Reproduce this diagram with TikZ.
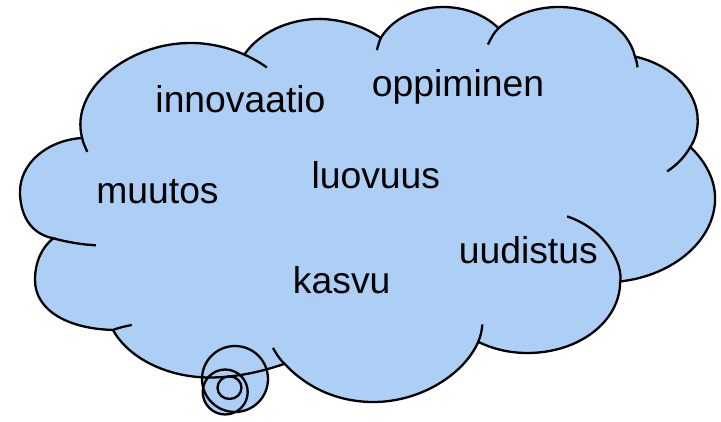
\documentclass[tikz,border=0pt]{standalone}
\usepackage{fontspec}
\setmainfont{Liberation Sans}
\definecolor{bleuciel}{RGB}{174,207,245}

\begin{document}
\begin{tikzpicture}[
  x=1pt, y=-1pt,
  mot/.style={font=\fontsize{37.3}{40}\selectfont, inner sep=0pt, anchor=base},
  nuage/.style={fill=bleuciel},
  trait/.style={line width=2.3pt}
]
  \useasboundingbox (0,0) rectangle (721,422);

  %=========================================================
  % 1. Bulles de la queue : on remplit d'abord
  %=========================================================
  \fill[nuage] (235,379) circle[radius=33];
  \fill[nuage] (225.2,392) circle[radius=22.5];

  %=========================================================
  % 2. Le nuage : 11 lobes, deux courbes de Bezier par lobe
  %    (grille 216 x 216)
  %=========================================================
  \begin{scope}[shift={(20,7)}, x=3.218pt, y=-1.8287pt]
    \filldraw[nuage, trait] (19.30,71.60) coordinate (j0)
      .. controls (15.30,44.90) and (34.00,19.70) .. (52.70,19.70)
      .. controls (58.60,19.50) and (64.70,22.10) .. (69.70,26.00) coordinate (j1)
      .. controls (74.50,13.90) and (83.40,6.50) .. (93.40,6.50)
      .. controls (100.04,6.90) and (107.10,10.50) .. (112.10,17.00) coordinate (j2)
      .. controls (115.70,6.30) and (123.30,0) .. (131.50,0)
      .. controls (138.40,0) and (144.70,4.60) .. (148.70,11.60) coordinate (j3)
      .. controls (153.30,4.40) and (160.20,0) .. (167.40,0)
      .. controls (179.10,0) and (189.00,11.30) .. (191.10,27.10) coordinate (j4)
      .. controls (202.40,31.50) and (210.60,45.80) .. (210.60,62.20)
      .. controls (210.60,67.20) and (210.00,72.00) .. (208.30,76.60) coordinate (j5)
      .. controls (213.10,84.60) and (216.00,94.50) .. (216.00,104.60)
      .. controls (216.00,127.50) and (203.10,146.80) .. (186.50,150.10) coordinate (j6)
      .. controls (186.50,172.00) and (173.70,189.20) .. (157.70,189.20)
      .. controls (152.20,189.20) and (147.00,187.10) .. (142.40,183.10) coordinate (j7)
      .. controls (138.20,200.20) and (124.90,216.00) .. (109.80,216.00)
      .. controls (98.60,216.00) and (89.00,208.00) .. (82.20,195.10) coordinate (j8)
      .. controls (75.00,199.50) and (67.00,202.60) .. (59.00,202.60)
      .. controls (45.00,202.60) and (33.30,191.00) .. (28.90,176.60) coordinate (j9)
      .. controls (15.00,176.00) and (4.66,166.00) .. (4.66,149.30)
      .. controls (4.66,139.00) and (7.00,131.00) .. (10.35,126.48) coordinate (j10)
      .. controls (3.00,124.00) and (0,113.00) .. (0,101.00)
      .. controls (0,86.00) and (8.00,73.00) .. (19.30,71.60)
      -- cycle;

    % bouts de lobes qui rentrent dans le nuage
    \draw[trait] (j0)  .. controls (19.50,74.10) and (20.40,76.90) .. (20.90,79.20);
    \draw[trait] (j1)  .. controls (72.00,27.90) and (74.80,30.50) .. (76.70,33.10);
    \draw[trait] (j2)  .. controls (111.60,19.20) and (111.20,21.40) .. (110.90,23.60);
    \draw[trait] (j3)  .. controls (147.20,14.00) and (146.40,17.20) .. (145.40,20.50);
    \draw[trait] (j4)  .. controls (191.50,29.00) and (191.80,31.00) .. (191.90,33.00);
    \draw[trait] (j5)  .. controls (206.60,81.70) and (204.30,86.20) .. (201.10,89.90);
    \draw[trait] (j6)  .. controls (187.40,142.00) and (182.80,122.00) .. (170.00,114.50);
    \draw[trait] (j7)  .. controls (143.20,179.80) and (143.50,176.80) .. (143.70,173.60);
    \draw[trait] (j8)  .. controls (80.60,192.50) and (79.60,189.50) .. (78.60,186.40);
    \draw[trait] (j9)  .. controls (30.50,175.50) and (32.50,174.60) .. (34.70,173.90);
    \draw[trait] (j10) .. controls (14.50,128.50) and (19.00,129.90) .. (23.60,130.30);
  \end{scope}

  %=========================================================
  % 3. Contours des bulles, par-dessus le nuage
  %=========================================================
  \draw[trait] (235,379) circle[radius=33];
  \draw[trait] (225.2,392) circle[radius=22.5];
  \draw[trait] (229.5,387.7) ellipse[x radius=12, y radius=11.3];

  %=========================================================
  % 4. Les mots
  %=========================================================
  \node[mot] (innovaatio) at (240.5,112.7) {innovaatio};
  \node[mot] (oppiminen)  at (458,96.7)    {oppiminen};
  \node[mot] (muutos)     at (157.5,203.3) {muutos};
  \node[mot] (luovuus)    at (375.8,188.3) {luovuus};
  \node[mot] (uudistus)   at (528.3,263.3) {uudistus};
  \node[mot] (kasvu)      at (341.7,293.3) {kasvu};

\end{tikzpicture}
\end{document}
